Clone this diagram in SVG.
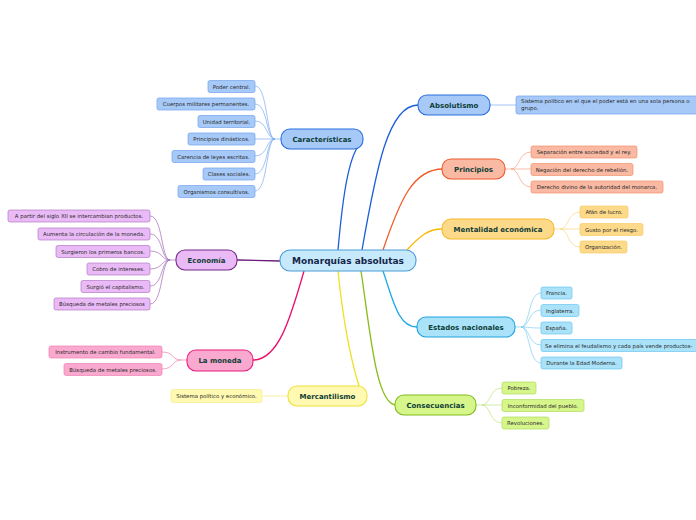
<svg xmlns="http://www.w3.org/2000/svg" width="696" height="520" viewBox="0 0 696 520">
<style>
.main text{font-family:"DejaVu Sans",Verdana,sans-serif;font-weight:bold;font-size:7px;fill:#0d3d36;text-anchor:middle}
.leaf text{font-family:"DejaVu Sans",Verdana,sans-serif;font-size:5.4px;fill:#2a2a2a;text-anchor:middle}
.leaf text.st{text-anchor:start}
.mr{stroke-width:1.1}
.lr{stroke-width:0.7}
.cn path{fill:none}
.blue .mr{fill:#a6c9f8;stroke:#2a6ee0}.blue .lr{fill:#a6c9f8;stroke:#70a2ef}
.org .mr{fill:#f9b9a2;stroke:#ee5a2c}.org .lr{fill:#f9b9a2;stroke:#f2916c}
.yel .mr{fill:#fdd98a;stroke:#f5b827}.yel .lr{fill:#fdd98a;stroke:#f8cc66}
.cyan .mr{fill:#a9e2f9;stroke:#1fa3e0}.cyan .lr{fill:#a9e2f9;stroke:#6cc6ef}
.grn .mr{fill:#d6f58a;stroke:#82bb1f}.grn .lr{fill:#d6f58a;stroke:#b0dc60}
.pink .mr{fill:#f9a9cf;stroke:#ea1c7c}.pink .lr{fill:#f9a9cf;stroke:#f080b0}
.lem .mr{fill:#fff9b1;stroke:#eee03c}.lem .lr{fill:#fff9b1;stroke:#f6ec8a}
.pur .mr{fill:#e9baf6;stroke:#772c86}.pur .lr{fill:#e9baf6;stroke:#b478c6}
</style>
<rect width="696" height="520" fill="#ffffff"/>
<g id="connectors" class="cn">
  <path d="M338,250 C342,205 347,165 357,148" stroke="#1a5ed8" stroke-width="1.3"/>
  <path d="M362,250 C376,170 388,105 418,105" stroke="#1a5ed8" stroke-width="1.3"/>
  <path d="M383,250 C400,200 413,169 443,169" stroke="#f05a28" stroke-width="1.3"/>
  <path d="M407,250 C420,236 428,229 442,229" stroke="#f8b800" stroke-width="1.3"/>
  <path d="M383,271 C393,300 398,327 417,327" stroke="#1eaae8" stroke-width="1.3"/>
  <path d="M361,271 C370,330 376,405 396,405" stroke="#86bd16" stroke-width="1.3"/>
  <path d="M338,271 C343,320 351,360 359,386" stroke="#ece11e" stroke-width="1.3"/>
  <path d="M304,271 C290,320 278,360 253,360" stroke="#ea0f6c" stroke-width="1.3"/>
  <path d="M237,260 L280,261" stroke="#6a1a7a" stroke-width="1.3"/>
  <g stroke="#7aaaf0" stroke-width="0.7">
    <path d="M255,86 C268,86 266,139 275,139 L281,139"/>
    <path d="M255,104 C268,104 266,139 275,139"/>
    <path d="M255,121 C268,121 266,139 275,139"/>
    <path d="M255,139 L275,139"/>
    <path d="M255,156 C268,156 266,139 275,139"/>
    <path d="M255,174 C268,174 266,139 275,139"/>
    <path d="M255,191 C268,191 266,139 275,139"/>
  </g>
  <g stroke="#a26ab4" stroke-width="0.7">
    <path d="M150,216 C163,216 161,260 170,260 L176,260"/>
    <path d="M150,234 C163,234 161,260 170,260"/>
    <path d="M150,251 C163,251 161,260 170,260"/>
    <path d="M150,269 C163,269 161,260 170,260"/>
    <path d="M150,286 C163,286 161,260 170,260"/>
    <path d="M150,304 C163,304 161,260 170,260"/>
  </g>
  <g stroke="#f27aaa" stroke-width="0.7">
    <path d="M162,352 C174,352 172,360 181,360 L187,360"/>
    <path d="M162,369 C174,369 172,360 181,360"/>
  </g>
  <path d="M262,396 L288,396" stroke="#f6ec8a" stroke-width="0.8"/>
  <path d="M490,105 L516,105" stroke="#8ab6f2" stroke-width="0.8"/>
  <g stroke="#f5a083" stroke-width="0.7">
    <path d="M505,169 L511,169 C520,169 518,152 531,152"/>
    <path d="M511,169 C520,169 518,169 531,169"/>
    <path d="M511,169 C520,169 518,187 531,187"/>
  </g>
  <g stroke="#f9d47a" stroke-width="0.7">
    <path d="M554,229 L560,229 C569,229 567,212 580,212"/>
    <path d="M560,229 C569,229 567,229 580,229"/>
    <path d="M560,229 C569,229 567,247 580,247"/>
  </g>
  <g stroke="#7fcdf0" stroke-width="0.7">
    <path d="M515,327 L521,327 C530,327 528,293 541,293"/>
    <path d="M521,327 C530,327 528,310 541,310"/>
    <path d="M521,327 C530,327 528,328 541,328"/>
    <path d="M521,327 C530,327 528,345 541,345"/>
    <path d="M521,327 C530,327 528,363 541,363"/>
  </g>
  <g stroke="#bde27a" stroke-width="0.7">
    <path d="M476,405 L482,405 C491,405 489,388 502,388"/>
    <path d="M482,405 C491,405 489,405 502,405"/>
    <path d="M482,405 C491,405 489,423 502,423"/>
  </g>
</g>

<g id="central">
  <rect x="280" y="250" width="136" height="21" rx="10" fill="#c6eafc" stroke="#4a9cd8" stroke-width="1.1"/>
  <text x="348" y="264" font-family="DejaVu Sans,Verdana,sans-serif" font-weight="bold" font-size="9px" fill="#15264a" text-anchor="middle">Monarquías absolutas</text>
</g>

<g id="caracteristicas" class="blue">
  <g class="main"><rect class="mr" x="281" y="129" width="82" height="20" rx="9"/><text x="322" y="141.5">Características</text></g>
  <g class="leaf">
    <rect class="lr" x="208" y="80.5" width="47" height="12" rx="2"/><text x="231.5" y="88.5">Poder central.</text>
    <rect class="lr" x="157" y="98" width="98" height="12" rx="2"/><text x="206" y="106">Cuerpos militares permanentes.</text>
    <rect class="lr" x="198" y="115.5" width="57" height="12" rx="2"/><text x="226.5" y="123.5">Unidad territorial.</text>
    <rect class="lr" x="188" y="133" width="67" height="12" rx="2"/><text x="221.5" y="141">Principios dinásticos.</text>
    <rect class="lr" x="172" y="150.5" width="83" height="12" rx="2"/><text x="213.5" y="158.5">Carencia de leyes escritas.</text>
    <rect class="lr" x="203" y="168" width="52" height="12" rx="2"/><text x="229" y="176">Clases sociales.</text>
    <rect class="lr" x="178" y="185.5" width="77" height="12" rx="2"/><text x="216.5" y="193.5">Organismos consultivos.</text>
  </g>
</g>

<g id="absolutismo" class="blue">
  <g class="main"><rect class="mr" x="418" y="95" width="72" height="20" rx="9"/><text x="454" y="107.5">Absolutismo</text></g>
  <g class="leaf">
    <rect class="lr" x="516" y="96" width="190" height="18" rx="2"/>
    <text class="st" x="521" y="103">Sistema político en el que el poder está en una sola persona o</text>
    <text class="st" x="521" y="110">grupo.</text>
  </g>
</g>

<g id="principios" class="org">
  <g class="main"><rect class="mr" x="442" y="159" width="63" height="20" rx="9"/><text x="473.5" y="171.5">Principios</text></g>
  <g class="leaf">
    <rect class="lr" x="531" y="146" width="106" height="12" rx="2"/><text x="584" y="154">Separación entre sociedad y el rey.</text>
    <rect class="lr" x="531" y="163.5" width="102" height="12" rx="2"/><text x="582" y="171.5">Negación del derecho de rebelión.</text>
    <rect class="lr" x="531" y="181" width="132" height="12" rx="2"/><text x="597" y="189">Derecho divino de la autoridad del monarca.</text>
  </g>
</g>

<g id="mentalidad" class="yel">
  <g class="main"><rect class="mr" x="442" y="219" width="112" height="20" rx="9"/><text x="498" y="231.5">Mentalidad económica</text></g>
  <g class="leaf">
    <rect class="lr" x="580" y="206" width="48" height="12" rx="2"/><text x="604" y="214">Afán de lucro.</text>
    <rect class="lr" x="580" y="223.5" width="63" height="12" rx="2"/><text x="611.5" y="231.5">Gusto por el riesgo.</text>
    <rect class="lr" x="580" y="241" width="47" height="12" rx="2"/><text x="603.5" y="249">Organización.</text>
  </g>
</g>

<g id="estados" class="cyan">
  <g class="main"><rect class="mr" x="417" y="317" width="98" height="20" rx="9"/><text x="466" y="329.5">Estados nacionales</text></g>
  <g class="leaf">
    <rect class="lr" x="541" y="287" width="31" height="12" rx="2"/><text x="556.5" y="295">Francia.</text>
    <rect class="lr" x="541" y="304.5" width="38" height="12" rx="2"/><text x="560" y="312.5">Inglaterra.</text>
    <rect class="lr" x="541" y="322" width="31" height="12" rx="2"/><text x="556.5" y="330">España.</text>
    <rect class="lr" x="541" y="339.5" width="170" height="12" rx="2"/><text class="st" x="545" y="347.5">Se elimina el feudalismo y cada país vende productos-</text>
    <rect class="lr" x="541" y="357" width="81" height="12" rx="2"/><text x="581.5" y="365">Durante la Edad Moderna.</text>
  </g>
</g>

<g id="consecuencias" class="grn">
  <g class="main"><rect class="mr" x="395" y="395" width="81" height="20" rx="9"/><text x="435.5" y="407.5">Consecuencias</text></g>
  <g class="leaf">
    <rect class="lr" x="502" y="382" width="34" height="12" rx="2"/><text x="519" y="390">Pobreza.</text>
    <rect class="lr" x="502" y="399.5" width="82" height="12" rx="2"/><text x="543" y="407.5">Inconformidad del pueblo.</text>
    <rect class="lr" x="502" y="417" width="47" height="12" rx="2"/><text x="525.5" y="425">Revoluciones.</text>
  </g>
</g>

<g id="mercantilismo" class="lem">
  <g class="main"><rect class="mr" x="288" y="386" width="79" height="20" rx="9"/><text x="327.5" y="398.5">Mercantilismo</text></g>
  <g class="leaf">
    <rect class="lr" x="171" y="389.5" width="91" height="13" rx="2"/><text x="216.5" y="398">Sistema político y económico.</text>
  </g>
</g>

<g id="moneda" class="pink">
  <g class="main"><rect class="mr" x="187" y="350" width="66" height="21" rx="9"/><text x="220" y="363">La moneda</text></g>
  <g class="leaf">
    <rect class="lr" x="49" y="346" width="113" height="12" rx="2"/><text x="105.5" y="354">Instrumento de cambio fundamental.</text>
    <rect class="lr" x="64" y="363.5" width="98" height="12" rx="2"/><text x="113" y="371.5">Búsqueda de metales preciosos.</text>
  </g>
</g>

<g id="economia" class="pur">
  <g class="main"><rect class="mr" x="176" y="250" width="61" height="20" rx="9"/><text x="206.5" y="262.5">Economía</text></g>
  <g class="leaf">
    <rect class="lr" x="8" y="210" width="142" height="12" rx="2"/><text x="79" y="218">A partir del siglo XII se intercambian productos.</text>
    <rect class="lr" x="38" y="228" width="112" height="12" rx="2"/><text x="94" y="236">Aumenta la circulación de la moneda.</text>
    <rect class="lr" x="56" y="245.5" width="94" height="12" rx="2"/><text x="103" y="253.5">Surgieron los primeros bancos.</text>
    <rect class="lr" x="87" y="263" width="63" height="12" rx="2"/><text x="118.5" y="271">Cobro de intereses.</text>
    <rect class="lr" x="81" y="280.5" width="69" height="12" rx="2"/><text x="115.5" y="288.5">Surgió el capitalismo.</text>
    <rect class="lr" x="54" y="298" width="96" height="12" rx="2"/><text x="102" y="306">Búsqueda de metales preciosos</text>
  </g>
</g>
</svg>
